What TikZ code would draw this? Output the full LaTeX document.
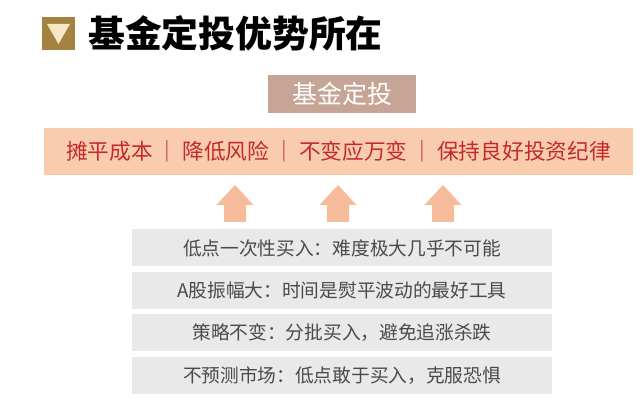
\documentclass[tikz,border=0pt]{standalone}
\usepackage{fontspec}
\newfontfamily\cjk{Noto Sans CJK SC}
\usetikzlibrary{positioning}

\definecolor{goldbox}{HTML}{A3833F}
\definecolor{goldtri}{HTML}{F6E7C6}
\definecolor{taupe}{HTML}{C6A596}
\definecolor{peach}{HTML}{F9CCAE}
\definecolor{redtext}{HTML}{C42A2C}
\definecolor{arrowpeach}{HTML}{F6BB9B}
\definecolor{rowgray}{HTML}{E9E9E9}
\definecolor{rowtext}{HTML}{4A4A4A}

\tikzset{
  rowbox/.style={fill=rowgray, minimum width=420pt, minimum height=37pt,
    inner sep=0pt, font=\cjk\fontsize{18.7}{22}\selectfont, text=rowtext},
  upArrow/.style={fill=arrowpeach}
}
\newcommand{\sepbar}{\hspace{4pt}｜\hspace{4pt}}

\begin{document}
\begin{tikzpicture}[x=1pt,y=-1pt]
\useasboundingbox (0,0) rectangle (640,414);
\fill[white] (0,0) rectangle (640,414);
% title
\fill[goldbox] (42,17) rectangle (75,50);
\fill[goldtri] (47,24) -- (70,24) -- (58.5,44) -- cycle;
\node[anchor=west, inner sep=0pt, font=\cjk\bfseries\fontsize{36.8}{40}\selectfont] (title) at (88,33) {基金定投优势所在};
% top box
\node[fill=taupe, minimum width=148pt, minimum height=38pt, inner sep=0pt,
  text=white, font=\cjk\fontsize{25}{28}\selectfont] (top) at (342,94) {基金定投};
% band
\node[fill=peach, minimum width=589pt, minimum height=47pt, inner sep=0pt,
  text=redtext, font=\cjk\fontsize{21.7}{24}\selectfont] (band) at (338.5,151.5)
  {摊平成本\sepbar 降低风险\sepbar 不变应万变\sepbar 保持良好投资纪律};
% arrows
\foreach \cx in {235,338,443}
  \fill[upArrow] (\cx,185) -- (\cx+18.5,205) -- (\cx+11,205) -- (\cx+11,222)
    -- (\cx-11,222) -- (\cx-11,205) -- (\cx-18.5,205) -- cycle;
% rows
\node[rowbox] (r1) at (342,248) {低点一次性买入：难度极大几乎不可能};
\node[rowbox, below=5pt of r1] (r2) {A股振幅大：时间是熨平波动的最好工具};
\node[rowbox, below=5pt of r2] (r3) {策略不变：分批买入，避免追涨杀跌};
\node[rowbox, below=5pt of r3] (r4) {不预测市场：低点敢于买入，克服恐惧};
\end{tikzpicture}
\end{document}
